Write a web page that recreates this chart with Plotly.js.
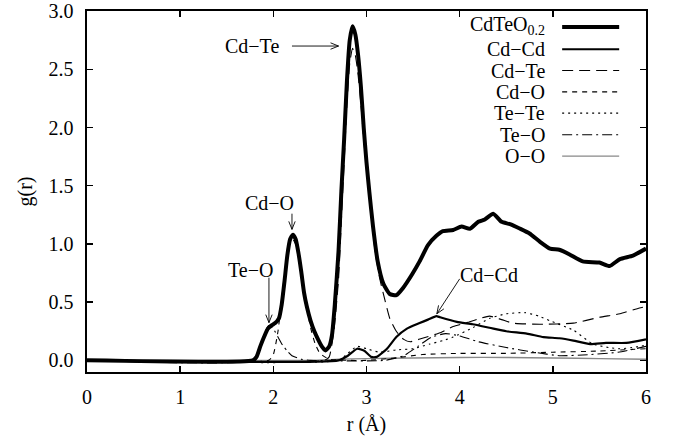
<!DOCTYPE html>
<html>
<head>
<meta charset="utf-8">
<script src="https://cdn.plot.ly/plotly-3.0.1.min.js"></script>
<style>html,body{margin:0;padding:0;background:#fff;}#chart{width:677px;height:444px;}</style>
</head>
<body>
<div id="chart"></div>
<script>
// ---- data ----
const rTotal = [0, 1.78, 1.82, 1.86, 1.9, 1.94, 1.98, 2.02, 2.06, 2.09, 2.12, 2.15, 2.18, 2.21, 2.24, 2.27, 2.3, 2.33, 2.36, 2.4, 2.44, 2.48, 2.52, 2.56, 2.6, 2.63, 2.66, 2.7, 2.73, 2.76, 2.79, 2.82, 2.85, 2.88, 2.91, 2.94, 2.97, 3.0, 3.03, 3.07, 3.12, 3.18, 3.25, 3.32, 3.39, 3.49, 3.57, 3.66, 3.75, 3.82, 3.93, 4.02, 4.11, 4.2, 4.27, 4.36, 4.45, 4.54, 4.65, 4.75, 4.86, 4.97, 5.07, 5.18, 5.32, 5.5, 5.61, 5.72, 5.86, 6.0];
const gTotal = [0, 0, 0.03, 0.12, 0.2, 0.27, 0.30, 0.32, 0.36, 0.48, 0.68, 0.9, 1.04, 1.08, 1.04, 0.92, 0.76, 0.58, 0.46, 0.34, 0.25, 0.18, 0.12, 0.085, 0.12, 0.22, 0.48, 0.94, 1.45, 1.9, 2.4, 2.75, 2.87, 2.8, 2.62, 2.35, 2.0, 1.7, 1.45, 1.15, 0.85, 0.66, 0.57, 0.56, 0.62, 0.74, 0.85, 0.99, 1.07, 1.11, 1.12, 1.15, 1.13, 1.19, 1.21, 1.26, 1.19, 1.17, 1.13, 1.09, 1.02, 0.96, 0.95, 0.91, 0.85, 0.84, 0.81, 0.87, 0.90, 0.96];

const rCdCd = [0, 2.7, 2.8, 2.9, 2.98, 3.05, 3.11, 3.22, 3.32, 3.43, 3.57, 3.66, 3.75, 3.79, 3.97, 4.14, 4.32, 4.5, 4.72, 4.9, 5.07, 5.22, 5.4, 5.57, 5.79, 6.0];
const gCdCd = [0, 0, 0.04, 0.1, 0.08, 0.03, 0.03, 0.1, 0.2, 0.27, 0.32, 0.35, 0.38, 0.37, 0.33, 0.31, 0.28, 0.25, 0.23, 0.2, 0.19, 0.17, 0.14, 0.15, 0.15, 0.18];

const rCdTe = [0, 2.55, 2.6, 2.65, 2.7, 2.73, 2.76, 2.79, 2.82, 2.85, 2.88, 2.91, 2.94, 2.97, 3.0, 3.05, 3.09, 3.14, 3.2, 3.25, 3.32, 3.4, 3.47, 3.6, 3.8, 3.93, 4.1, 4.22, 4.32, 4.45, 4.57, 4.86, 5.22, 5.5, 5.72, 5.93, 6.0];
const gCdTe = [0, 0, 0.03, 0.25, 0.7, 1.2, 1.7, 2.2, 2.55, 2.68, 2.62, 2.45, 2.2, 1.9, 1.65, 1.3, 0.95, 0.71, 0.51, 0.36, 0.25, 0.18, 0.16, 0.19, 0.24, 0.29, 0.33, 0.36, 0.38, 0.35, 0.32, 0.31, 0.32, 0.37, 0.40, 0.45, 0.46];

const rCdO = [0, 1.95, 2.0, 2.05, 2.1, 2.15, 2.2, 2.25, 2.3, 2.35, 2.4, 2.45, 2.5, 2.6, 2.8, 3.0, 3.3, 3.6, 4.0, 4.5, 5.0, 5.5, 6.0];
const gCdO = [0, 0, 0.05, 0.25, 0.6, 0.92, 1.05, 0.98, 0.75, 0.5, 0.28, 0.14, 0.06, 0.01, 0, 0, 0.02, 0.05, 0.06, 0.06, 0.07, 0.08, 0.1];

const rTeTe = [0, 2.7, 2.8, 2.9, 3.0, 3.14, 3.32, 3.5, 3.68, 3.82, 3.93, 4.14, 4.32, 4.5, 4.7, 4.85, 4.97, 5.22, 5.43, 5.6, 5.72, 5.85, 6.0];
const gTeTe = [0, 0, 0.06, 0.12, 0.1, 0.07, 0.09, 0.1, 0.14, 0.17, 0.2, 0.28, 0.36, 0.4, 0.41, 0.38, 0.34, 0.26, 0.14, 0.11, 0.1, 0.11, 0.13];

const rTeO = [0, 1.8, 1.85, 1.9, 1.95, 2.0, 2.05, 2.1, 2.15, 2.2, 2.3, 2.4, 3.2, 3.4, 3.55, 3.7, 3.85, 4.0, 4.2, 4.5, 4.8, 5.07, 5.4, 5.7, 6.0];
const gTeO = [0, 0, 0.08, 0.22, 0.3, 0.27, 0.2, 0.13, 0.08, 0.04, 0.01, 0, 0, 0.04, 0.12, 0.2, 0.23, 0.21, 0.16, 0.11, 0.07, 0.04, 0.05, 0.07, 0.12];

const rOO = [0, 2.4, 2.7, 3.0, 3.5, 4.0, 4.5, 5.0, 5.5, 6.0];
const gOO = [0, 0, 0.01, 0.015, 0.02, 0.025, 0.025, 0.02, 0.015, 0.01];

const seriesNames = ['CdTeO<sub>0.2</sub>', 'Cd\u2212Cd', 'Cd\u2212Te', 'Cd\u2212O', 'Te\u2212Te', 'Te\u2212O', 'O\u2212O'];
const yTickVals = [0, 0.5, 1, 1.5, 2, 2.5, 3];
const xTickVals = [0, 1, 2, 3, 4, 5, 6];

// annotation labels and arrows (data coordinates)
const labelText = ['Cd\u2212Te', 'Cd\u2212O', 'Te\u2212O', 'Cd\u2212Cd'];
const labelX = [1.77, 1.963, 1.75, 4.32];
const labelY = [2.70, 1.355, 0.776, 0.733];
const arrowTailX = [2.20, 2.20, 1.953, 4.0];
const arrowTailY = [2.70, 1.26, 0.71, 0.70];
const arrowHeadX = [2.70, 2.20, 1.953, 3.755];
const arrowHeadY = [2.70, 1.125, 0.324, 0.40];

// ---- styles / geometry ----
const FONT = 'Liberation Serif, Times New Roman, serif';
const W = 677, H = 444;
const M = {l: 87, r: 31, t: 11, b: 72};
const XR = [0, 6], YR = [-0.1, 3.001];
const styles = [
  {color: '#000', width: 4, dash: 'solid'},
  {color: '#000', width: 2.2, dash: 'solid'},
  {color: '#000', width: 1.1, dash: '11px,6px'},
  {color: '#000', width: 1.1, dash: '5px,5px'},
  {color: '#000', width: 1.1, dash: '2px,4px'},
  {color: '#000', width: 1.1, dash: '10px,4px,2px,4px'},
  {color: '#888', width: 1.4, dash: 'solid'}
];
const xs = [rTotal, rCdCd, rCdTe, rCdO, rTeTe, rTeO, rOO];
const ys = [gTotal, gCdCd, gCdTe, gCdO, gTeTe, gTeO, gOO];

const traces = [];
for (let i = xs.length - 1; i >= 0; i--) {
  traces.push({
    x: xs[i], y: ys[i], type: 'scatter', mode: 'lines', name: seriesNames[i],
    line: {color: styles[i].color, width: styles[i].width, dash: styles[i].dash, shape: 'spline', smoothing: 0.5},
    showlegend: false, hoverinfo: 'skip'
  });
}

const annotations = [];
const shapes = [];
const sx = (W - M.l - M.r) / (XR[1] - XR[0]);
const sy = (H - M.t - M.b) / (YR[1] - YR[0]);
const HEAD_LEN = 8, HEAD_HALF = 3.2;
for (let i = 0; i < labelText.length; i++) {
  annotations.push({x: labelX[i], y: labelY[i], xref: 'x', yref: 'y', text: labelText[i], showarrow: false,
    font: {family: FONT, size: 20, color: '#000'}, xanchor: 'center', yanchor: 'middle'});
  shapes.push({type: 'line', xref: 'x', yref: 'y', x0: arrowTailX[i], y0: arrowTailY[i], x1: arrowHeadX[i], y1: arrowHeadY[i],
    line: {color: '#000', width: 0.9}});
  const dx = (arrowHeadX[i] - arrowTailX[i]) * sx;
  const dy = -(arrowHeadY[i] - arrowTailY[i]) * sy;
  const len = Math.hypot(dx, dy);
  const ux = dx / len, uy = dy / len, nx = -uy, ny = ux;
  const w1x = -ux * HEAD_LEN + nx * HEAD_HALF, w1y = -uy * HEAD_LEN + ny * HEAD_HALF;
  const w2x = -ux * HEAD_LEN - nx * HEAD_HALF, w2y = -uy * HEAD_LEN - ny * HEAD_HALF;
  const hx = arrowHeadX[i], hy = arrowHeadY[i];
  const p1x = hx + w1x / sx, p1y = hy - w1y / sy;
  const p2x = hx + w2x / sx, p2y = hy - w2y / sy;
  shapes.push({type: 'path', xref: 'x', yref: 'y',
    path: 'M' + p1x + ',' + p1y + ' L' + hx + ',' + hy + ' L' + p2x + ',' + p2y,
    line: {color: '#000', width: 0.9}});
}

// custom legend (text right-aligned, sample on the right, as in the reference)
const legRowY = [0.956, 0.894, 0.835, 0.776, 0.717, 0.657, 0.598];
const legTextX = 0.823, legLineX0 = 0.850, legLineX1 = 0.952;
for (let i = 0; i < seriesNames.length; i++) {
  annotations.push({x: legTextX, y: legRowY[i] + (i === 0 ? 0.004 : 0), xref: 'paper', yref: 'paper', text: seriesNames[i],
    showarrow: false, xanchor: 'right', yanchor: 'middle', font: {family: FONT, size: 20, color: '#000'}});
  shapes.push({type: 'line', xref: 'paper', yref: 'paper', x0: legLineX0, x1: legLineX1, y0: legRowY[i], y1: legRowY[i],
    line: {color: styles[i].color, width: styles[i].width, dash: styles[i].dash}});
}

const axisCommon = {
  showline: true, linecolor: '#000', linewidth: 1.6, mirror: 'ticks', ticks: 'inside', ticklen: 6, tickwidth: 1.4,
  tickcolor: '#000', showgrid: false, zeroline: false, ticklabeloverflow: 'allow',
  tickfont: {family: FONT, size: 20, color: '#000'}
};

const layout = {
  width: W, height: H,
  margin: M,
  paper_bgcolor: '#fff', plot_bgcolor: '#fff',
  font: {family: FONT, size: 20, color: '#000'},
  xaxis: Object.assign({}, axisCommon, {range: XR, tickvals: xTickVals, ticklabelstandoff: 6,
    title: {text: 'r (\u00C5)', font: {family: FONT, size: 20, color: '#000'}, standoff: 10}}),
  yaxis: Object.assign({}, axisCommon, {range: YR, tickvals: yTickVals, tickformat: '.1f', ticklabelstandoff: 8,
    title: {text: 'g(r)', font: {family: FONT, size: 20, color: '#000'}, standoff: 10}}),
  annotations: annotations,
  shapes: shapes
};

Plotly.newPlot('chart', traces, layout, {staticPlot: true, displayModeBar: false});
</script>
</body>
</html>
